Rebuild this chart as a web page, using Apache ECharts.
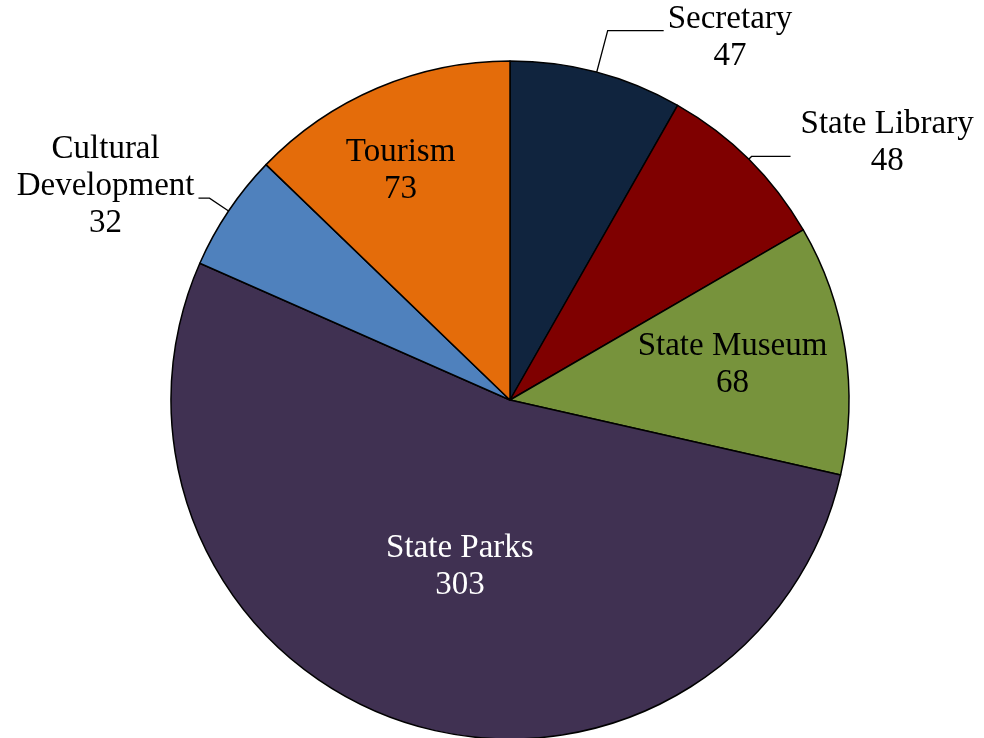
<!DOCTYPE html>
<html>
<head>
<meta charset="utf-8">
<script src="https://cdn.jsdelivr.net/npm/echarts@6/dist/echarts.min.js"></script>
<style>
html,body{margin:0;padding:0;background:#fff;}
#chart{width:984px;height:738px;}
</style>
</head>
<body>
<div id="chart"></div>
<script>
var categories = ['Secretary', 'State Library', 'State Museum', 'State Parks', 'Cultural Development', 'Tourism'];
var labelLines = [['Secretary'], ['State Library'], ['State Museum'], ['State Parks'], ['Cultural', 'Development'], ['Tourism']];
var values = [47, 48, 68, 303, 32, 73];
var colors = ['#10243E', '#7F0000', '#77933C', '#403152', '#4F81BD', '#E46C0A'];

var FONT = 'Liberation Serif';
// leader-line settings for the outside labels
var outsideCfg = {
  0: {length: 43, length2: 56, dist: 4, spTop: 14, spBottom: 0},
  1: {length: 4, length2: 39, dist: 10, spTop: 0, spBottom: 28},
  4: {length: 23, length2: 11, dist: 4, spTop: 0, spBottom: 23}
};
var insideShift = {
  2: [52, -9],
  3: [4, 3],
  5: [-42, -70]
};
var insideColor = {2: '#000', 3: '#fff', 5: '#000'};

function labelText(i, v) {
  var parts = labelLines[i].map(function (t) { return '{a|' + t + '}'; });
  parts.push('{a|' + v + '}');
  var cfg = outsideCfg[i];
  if (cfg && cfg.spTop) parts.unshift('{top| }');
  if (cfg && cfg.spBottom) parts.push('{bot| }');
  return parts.join('\n');
}

var data = categories.map(function (c, i) {
  var item = {
    name: c,
    value: values[i],
    itemStyle: {color: colors[i]}
  };
  var cfg = outsideCfg[i];
  if (cfg) {
    item.label = {
      position: 'outside',
      color: '#000',
      distanceToLabelLine: cfg.dist,
      rich: {
        a: {fontFamily: FONT, fontSize: 33, lineHeight: 37, align: 'center', color: '#000'},
        top: {fontSize: 1, lineHeight: cfg.spTop || 1},
        bot: {fontSize: 1, lineHeight: cfg.spBottom || 1}
      }
    };
    item.labelLine = {
      show: true,
      length: cfg.length,
      length2: cfg.length2,
      lineStyle: {color: '#000', width: 1.3}
    };
  } else {
    item.label = {
      position: 'inside',
      color: insideColor[i],
      rich: {
        a: {fontFamily: FONT, fontSize: 33, lineHeight: 37, align: 'center', color: insideColor[i]}
      }
    };
    item.labelLine = {show: false};
  }
  return item;
});

var chart = echarts.init(document.getElementById('chart'), null, {renderer: 'canvas'});
chart.setOption({
  animation: false,
  backgroundColor: '#fff',
  series: [{
    type: 'pie',
    center: [510, 400],
    radius: 339,
    startAngle: 90,
    clockwise: true,
    avoidLabelOverlap: false,
    itemStyle: {borderColor: '#000', borderWidth: 1.5},
    label: {
      show: true,
      fontFamily: FONT,
      fontSize: 33,
      lineHeight: 37,
      formatter: function (p) {
        return labelText(p.dataIndex, p.value);
      }
    },
    labelLayout: function (p) {
      var s = insideShift[p.dataIndex];
      if (s) return {dx: s[0], dy: s[1]};
      return {};
    },
    emphasis: {disabled: true},
    data: data
  }]
});
</script>
</body>
</html>
